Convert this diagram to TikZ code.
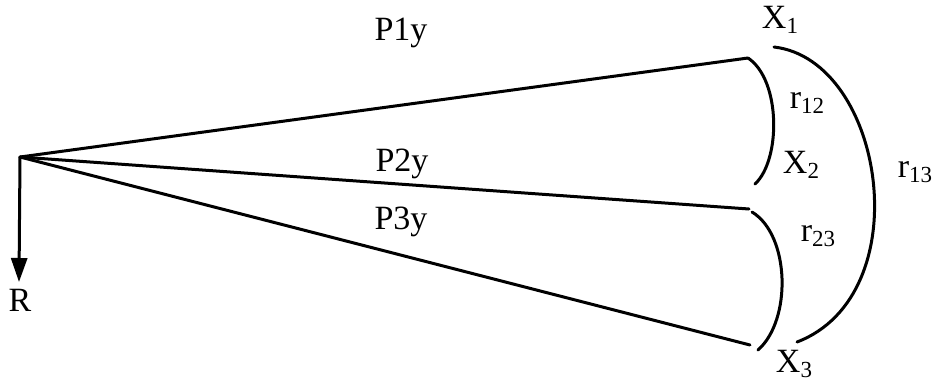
\documentclass[tikz,border=0pt]{standalone}
\usepackage{fontspec}
\setmainfont{Liberation Serif}
\usetikzlibrary{arrows.meta}
\newcommand\subx[1]{\raisebox{-0.35ex}{\fontsize{23}{23}\selectfont #1}}
\tikzset{
  ln/.style={line width=3pt, line cap=round},
  lbl/.style={inner sep=0pt, font=\fontsize{34}{38}\selectfont},
}
\begin{document}
\begin{tikzpicture}[x=1pt,y=-1pt]
\useasboundingbox (0,0) rectangle (939,383);
\coordinate (O) at (20,157);
\coordinate (A1) at (748,58);
\coordinate (A2) at (749,209);
\coordinate (A3) at (750,345);
\coordinate (Rend) at (19,282);
% rays
\draw[ln] (O) -- (A1);
\draw[ln] (O) -- (A2);
\draw[ln] (O) -- (A3);
% down arrow
\draw[line width=3pt, -{Triangle[length=24pt,width=16pt]}] (O) -- (Rend);
% brackets
\draw[ln] (A1) .. controls (781,80) and (781,160) .. (755,184);
\draw[ln] (752,212) .. controls (790,235) and (792,320) .. (758,350);
\draw[ln] (774,47) .. controls (885,60) and (920,295) .. (797,342);
% labels
\node[lbl] (P1) at (401,33) {P1y};
\node[lbl] (P2) at (402,164) {P2y};
\node[lbl] (P3) at (401,222) {P3y};
\node[lbl] (R) at (20,300) {R};
\node[lbl] (X1) at (780,20) {X\subx{1}};
\node[lbl] (X2) at (801,165) {X\subx{2}};
\node[lbl] (X3) at (794,364) {X\subx{3}};
\node[lbl] (r12) at (807,103) {r\subx{12}};
\node[lbl] (r23) at (818,236) {r\subx{23}};
\node[lbl] (r13) at (915,172) {r\subx{13}};
\end{tikzpicture}
\end{document}
